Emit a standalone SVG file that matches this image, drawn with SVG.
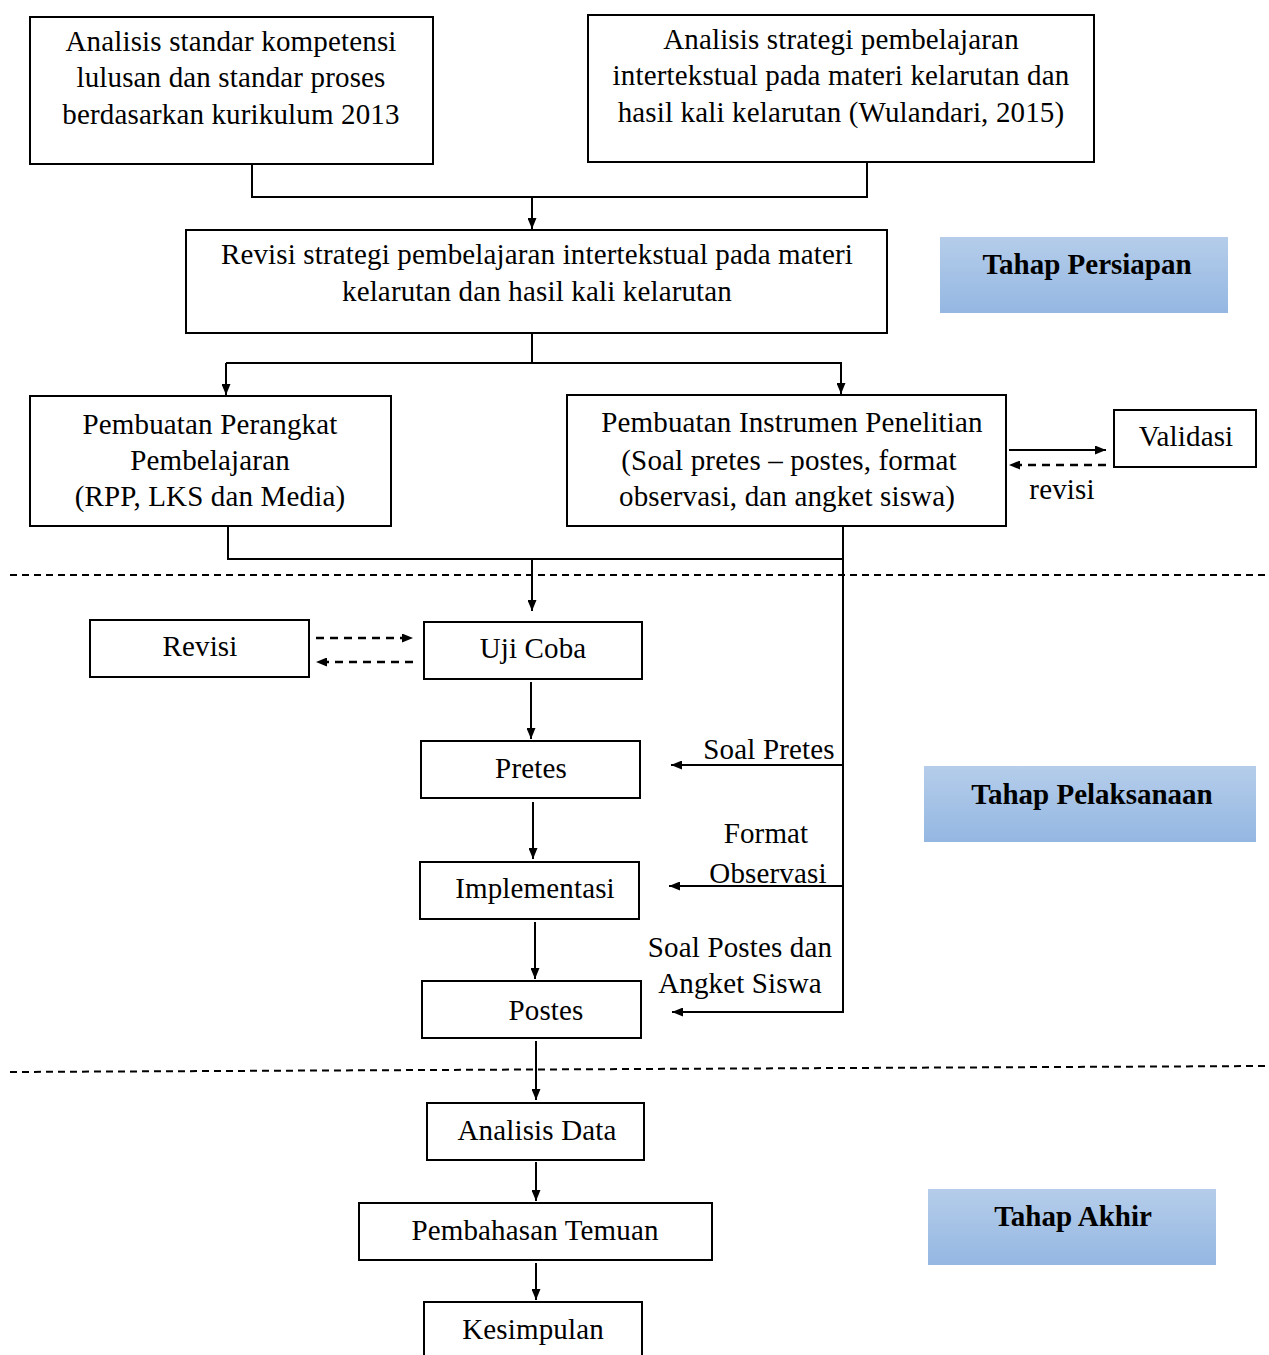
<svg xmlns="http://www.w3.org/2000/svg" width="1269" height="1355" viewBox="0 0 1269 1355">
<defs>
<style>
.box{fill:#fff;stroke:#000;stroke-width:2}
.t{font-family:"Liberation Serif","Times New Roman",serif;font-size:29px;letter-spacing:0.15px;fill:#000;text-anchor:middle}
.tb{font-family:"Liberation Serif","Times New Roman",serif;font-size:29px;font-weight:bold;fill:#000;text-anchor:middle}
.ln{fill:none;stroke:#000;stroke-width:2}
.dash{fill:none;stroke:#000;stroke-width:2.5;stroke-dasharray:8,6}
.sep{fill:none;stroke:#000;stroke-width:2;stroke-dasharray:7,5}
.blue{fill:url(#bg)}
</style>
<linearGradient id="bg" x1="0" y1="0" x2="0" y2="1">
<stop offset="0" stop-color="#b5cdea"/>
<stop offset="1" stop-color="#94b7e2"/>
</linearGradient>
<marker id="ah" markerWidth="11" markerHeight="9" refX="11" refY="4.5" orient="auto" markerUnits="userSpaceOnUse">
<path d="M0,0 L11,4.5 L0,9 z" fill="#000"/>
</marker>
</defs>

<g id="separators">
<line class="sep" x1="10" y1="575" x2="1265" y2="575"/>
<line class="sep" x1="10" y1="1072" x2="1265" y2="1066"/>
</g>

<g id="connectors">
<polyline class="ln" points="252,164 252,197 867,197 867,162"/>
<line class="ln" x1="532" y1="197" x2="532" y2="229" marker-end="url(#ah)"/>
<polyline class="ln" points="532,333 532,363"/>
<polyline class="ln" points="226,363 841,363 841,394" marker-end="url(#ah)"/>
<line class="ln" x1="226" y1="363" x2="226" y2="395" marker-end="url(#ah)"/>
<line class="ln" x1="1009" y1="450" x2="1106" y2="450" marker-end="url(#ah)"/>
<line class="dash" x1="1106" y1="465" x2="1009" y2="465" marker-end="url(#ah)"/>
<polyline class="ln" points="228,526 228,559 843,559"/>
<polyline class="ln" points="843,526 843,1012 672,1012" marker-end="url(#ah)"/>
<line class="ln" x1="532" y1="559" x2="532" y2="611" marker-end="url(#ah)"/>
<line class="dash" x1="316" y1="638" x2="413" y2="638" marker-end="url(#ah)"/>
<line class="dash" x1="413" y1="662" x2="316" y2="662" marker-end="url(#ah)"/>
<line class="ln" x1="531" y1="682" x2="531" y2="739" marker-end="url(#ah)"/>
<line class="ln" x1="533" y1="802" x2="533" y2="859" marker-end="url(#ah)"/>
<line class="ln" x1="535" y1="922" x2="535" y2="979" marker-end="url(#ah)"/>
<line class="ln" x1="536" y1="1041" x2="536" y2="1100" marker-end="url(#ah)"/>
<line class="ln" x1="536" y1="1162" x2="536" y2="1201" marker-end="url(#ah)"/>
<line class="ln" x1="536" y1="1263" x2="536" y2="1300" marker-end="url(#ah)"/>
<line class="ln" x1="843" y1="765" x2="671" y2="765" marker-end="url(#ah)"/>
<line class="ln" x1="843" y1="886" x2="669" y2="886" marker-end="url(#ah)"/>
<text class="t" x="1062" y="499">revisi</text>
<text class="t" x="769" y="759">Soal Pretes</text>
<text class="t" x="766" y="843">Format</text>
<text class="t" x="768" y="883">Observasi</text>
<text class="t" x="740" y="957">Soal Postes dan</text>
<text class="t" x="740" y="993">Angket Siswa</text>
</g>

<g id="n1">
<rect class="box" x="30" y="17" width="403" height="147"/>
<text class="t" x="231" y="51">Analisis  standar kompetensi</text>
<text class="t" x="231" y="87">lulusan  dan standar proses</text>
<text class="t" x="231" y="124">berdasarkan kurikulum  2013</text>
</g>

<g id="n2">
<rect class="box" x="588" y="15" width="506" height="147"/>
<text class="t" x="841" y="49">Analisis  strategi pembelajaran</text>
<text class="t" x="841" y="85">intertekstual pada materi kelarutan dan</text>
<text class="t" x="841" y="122">hasil kali kelarutan (Wulandari, 2015)</text>
</g>

<g id="n3">
<rect class="box" x="186" y="230" width="701" height="103"/>
<text class="t" x="537" y="264">Revisi strategi pembelajaran intertekstual pada materi</text>
<text class="t" x="537" y="301">kelarutan dan hasil kali kelarutan</text>
</g>

<g id="tahap-persiapan">
<rect class="blue" x="940" y="237" width="288" height="76"/>
<text class="tb" x="1087" y="274">Tahap Persiapan</text>
</g>

<g id="n4">
<rect class="box" x="30" y="396" width="361" height="130"/>
<text class="t" x="210" y="434">Pembuatan Perangkat</text>
<text class="t" x="210" y="470">Pembelajaran</text>
<text class="t" x="210" y="506">(RPP, LKS dan Media)</text>
</g>

<g id="n5">
<rect class="box" x="567" y="395" width="439" height="131"/>
<text class="t" x="792" y="432">Pembuatan Instrumen Penelitian</text>
<text class="t" x="789" y="470">(Soal pretes – postes, format</text>
<text class="t" x="787" y="506">observasi, dan angket siswa)</text>
</g>

<g id="validasi">
<rect class="box" x="1114" y="410" width="142" height="57"/>
<text class="t" x="1186" y="446">Validasi</text>
</g>

<g id="revisi">
<rect class="box" x="90" y="620" width="219" height="57"/>
<text class="t" x="200" y="656">Revisi</text>
</g>

<g id="uji-coba">
<rect class="box" x="424" y="622" width="218" height="57"/>
<text class="t" x="533" y="658">Uji Coba</text>
</g>

<g id="pretes">
<rect class="box" x="421" y="741" width="219" height="57"/>
<text class="t" x="531" y="778">Pretes</text>
</g>

<g id="implementasi">
<rect class="box" x="420" y="862" width="219" height="57"/>
<text class="t" x="535" y="898">Implementasi</text>
</g>

<g id="postes">
<rect class="box" x="422" y="981" width="219" height="57"/>
<text class="t" x="546" y="1020">Postes</text>
</g>

<g id="tahap-pelaksanaan">
<rect class="blue" x="924" y="766" width="332" height="76"/>
<text class="tb" x="1092" y="804">Tahap Pelaksanaan</text>
</g>

<g id="analisis-data">
<rect class="box" x="427" y="1103" width="217" height="57"/>
<text class="t" x="537" y="1140">Analisis  Data</text>
</g>

<g id="pembahasan">
<rect class="box" x="359" y="1203" width="353" height="57"/>
<text class="t" x="535" y="1240">Pembahasan Temuan</text>
</g>

<g id="kesimpulan">
<rect class="box" x="424" y="1302" width="218" height="70"/>
<text class="t" x="533" y="1339">Kesimpulan</text>
</g>

<g id="tahap-akhir">
<rect class="blue" x="928" y="1189" width="288" height="76"/>
<text class="tb" x="1073" y="1226">Tahap Akhir</text>
</g>
</svg>
